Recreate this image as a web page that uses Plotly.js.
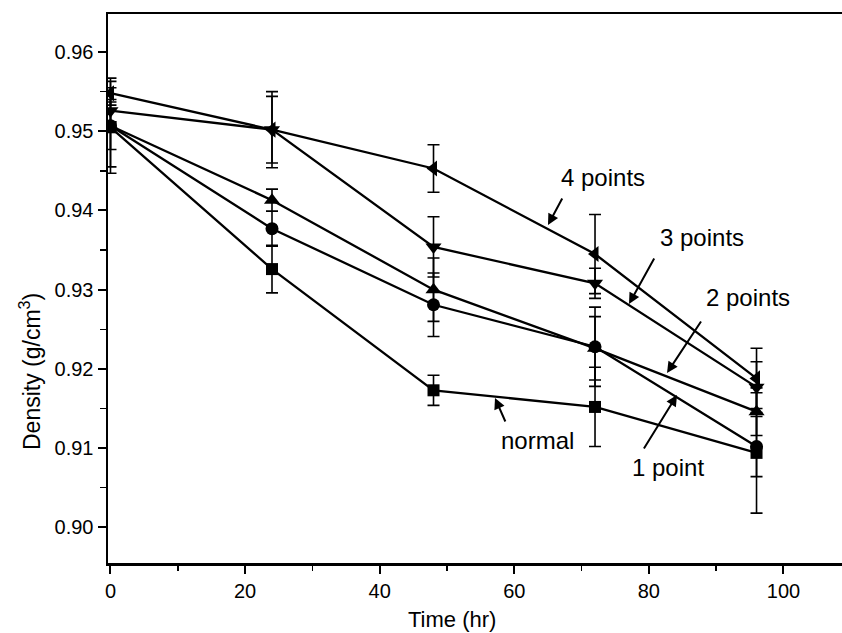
<!DOCTYPE html>
<html>
<head>
<meta charset="utf-8">
<script src="https://cdn.plot.ly/plotly-3.0.1.min.js"></script>
<style>html,body{margin:0;padding:0;background:#fff;}#chart{width:842px;height:633px;}</style>
</head>
<body>
<div id="chart"></div>
<script>
const timeHr = [0, 24, 48, 72, 96];

const normalVals = [0.9505, 0.9326, 0.9173, 0.9152, 0.9094];
const normalErr  = [0.0050, 0.0030, 0.0019, 0.0050, 0.0076];

const onePointVals = [0.9507, 0.9377, 0.9281, 0.9228, 0.9102];
const onePointErr  = [0.0060, 0.0022, 0.0040, 0.0050, 0.0038];

const twoPointVals = [0.9507, 0.9413, 0.9300, 0.9226, 0.9146];
const twoPointErr  = [0.0030, 0.0014, 0.0040, 0.0040, 0.0030];

const threePointVals = [0.9526, 0.9502, 0.9354, 0.9308, 0.9177];
const threePointErr  = [0.0014, 0.0042, 0.0038, 0.0019, 0.0032];

const fourPointVals = [0.9548, 0.9502, 0.9453, 0.9345, 0.9188];
const fourPointErr  = [0.0015, 0.0048, 0.0030, 0.0050, 0.0038];

const xTicks = [0, 20, 40, 60, 80, 100];
const yTicks = [0.90, 0.91, 0.92, 0.93, 0.94, 0.95, 0.96];

const xTitle = 'Time (hr)';
const yTitle = 'Density (g/cm<sup>3</sup>)';

function series(name, y, err, symbol, size) {
  return {
    type: 'scatter', mode: 'lines+markers', name: name,
    x: timeHr, y: y,
    line: {color: '#000', width: 2.3},
    marker: {symbol: symbol, size: size, color: '#000'},
    error_y: {type: 'data', array: err, visible: true, color: '#000', thickness: 1.6, width: 6},
    showlegend: false
  };
}

const data = [
  series('normal', normalVals, normalErr, 'square', 12),
  series('1 point', onePointVals, onePointErr, 'circle', 13),
  series('2 points', twoPointVals, twoPointErr, 'triangle-up', 14),
  series('3 points', threePointVals, threePointErr, 'triangle-down', 14),
  series('4 points', fourPointVals, fourPointErr, 'triangle-left', 14)
];

const fontFam = 'Liberation Sans, Arial, sans-serif';

const L = 108, R = 842, T = 14, B = 563;
function px(x) { return (x - L) / (R - L); }
function py(y) { return (B - y) / (B - T); }

function label(text, tx, ty, ax, ay, hx, hy) {
  return [
    {xref: 'paper', yref: 'paper', x: px(tx), y: py(ty), text: text, showarrow: false,
     font: {family: fontFam, size: 24, color: '#000'}, xanchor: 'center', yanchor: 'middle'},
    {xref: 'paper', yref: 'paper', x: px(hx), y: py(hy), ax: px(ax), ay: py(ay), axref: 'paper', ayref: 'paper',
     text: '', showarrow: true, arrowhead: 2, arrowsize: 1.1, arrowwidth: 2, arrowcolor: '#000'}
  ];
}

const annotations = [].concat(
  label('4 points', 603, 177, 563, 197, 548, 225),
  label('3 points', 702, 237, 655, 257, 629, 304),
  label('2 points', 748, 297, 702, 320, 667, 373),
  label('1 point', 668, 467, 643, 450, 677, 395),
  label('normal', 537, 440, 506, 423, 495, 398),
  [
    {xref: 'paper', yref: 'paper', x: px(452), y: py(620), text: xTitle, showarrow: false,
     font: {family: fontFam, size: 22, color: '#000'}, xanchor: 'center', yanchor: 'middle'},
    {xref: 'paper', yref: 'paper', x: px(30), y: py(372), text: yTitle, showarrow: false, textangle: -90,
     font: {family: fontFam, size: 23, color: '#000'}, xanchor: 'center', yanchor: 'middle'}
  ]
);

const layout = {
  width: 842, height: 633,
  margin: {l: 108, r: 0, t: 14, b: 70},
  paper_bgcolor: '#fff', plot_bgcolor: '#fff',
  font: {family: fontFam, color: '#000'},
  xaxis: {
    range: [-0.37, 108.7], tickvals: xTicks, ticktext: xTicks.map(String),
    ticks: 'outside', ticklen: 8, tickwidth: 2, tickcolor: '#000',
    showline: true, linewidth: 2.5, linecolor: '#000', mirror: true,
    showgrid: false, zeroline: false,
    tickfont: {size: 20, family: fontFam},
    minor: {dtick: 10, ticks: 'outside', ticklen: 5, tickwidth: 1.5, tickcolor: '#000', showgrid: false}
  },
  yaxis: {
    range: [0.8955, 0.9648], tickvals: yTicks, ticktext: yTicks.map(v => v.toFixed(2)),
    ticks: 'outside', ticklen: 8, tickwidth: 2, tickcolor: '#000',
    showline: true, linewidth: 2.5, linecolor: '#000',
    showgrid: false, zeroline: false,
    tickfont: {size: 20, family: fontFam},
    minor: {dtick: 0.005, tick0: 0.895, ticks: 'outside', ticklen: 6, tickwidth: 1.5, tickcolor: '#000', showgrid: false}
  },
  annotations: annotations
};

Plotly.newPlot('chart', data, layout, {displayModeBar: false, staticPlot: true});
</script>
</body>
</html>
